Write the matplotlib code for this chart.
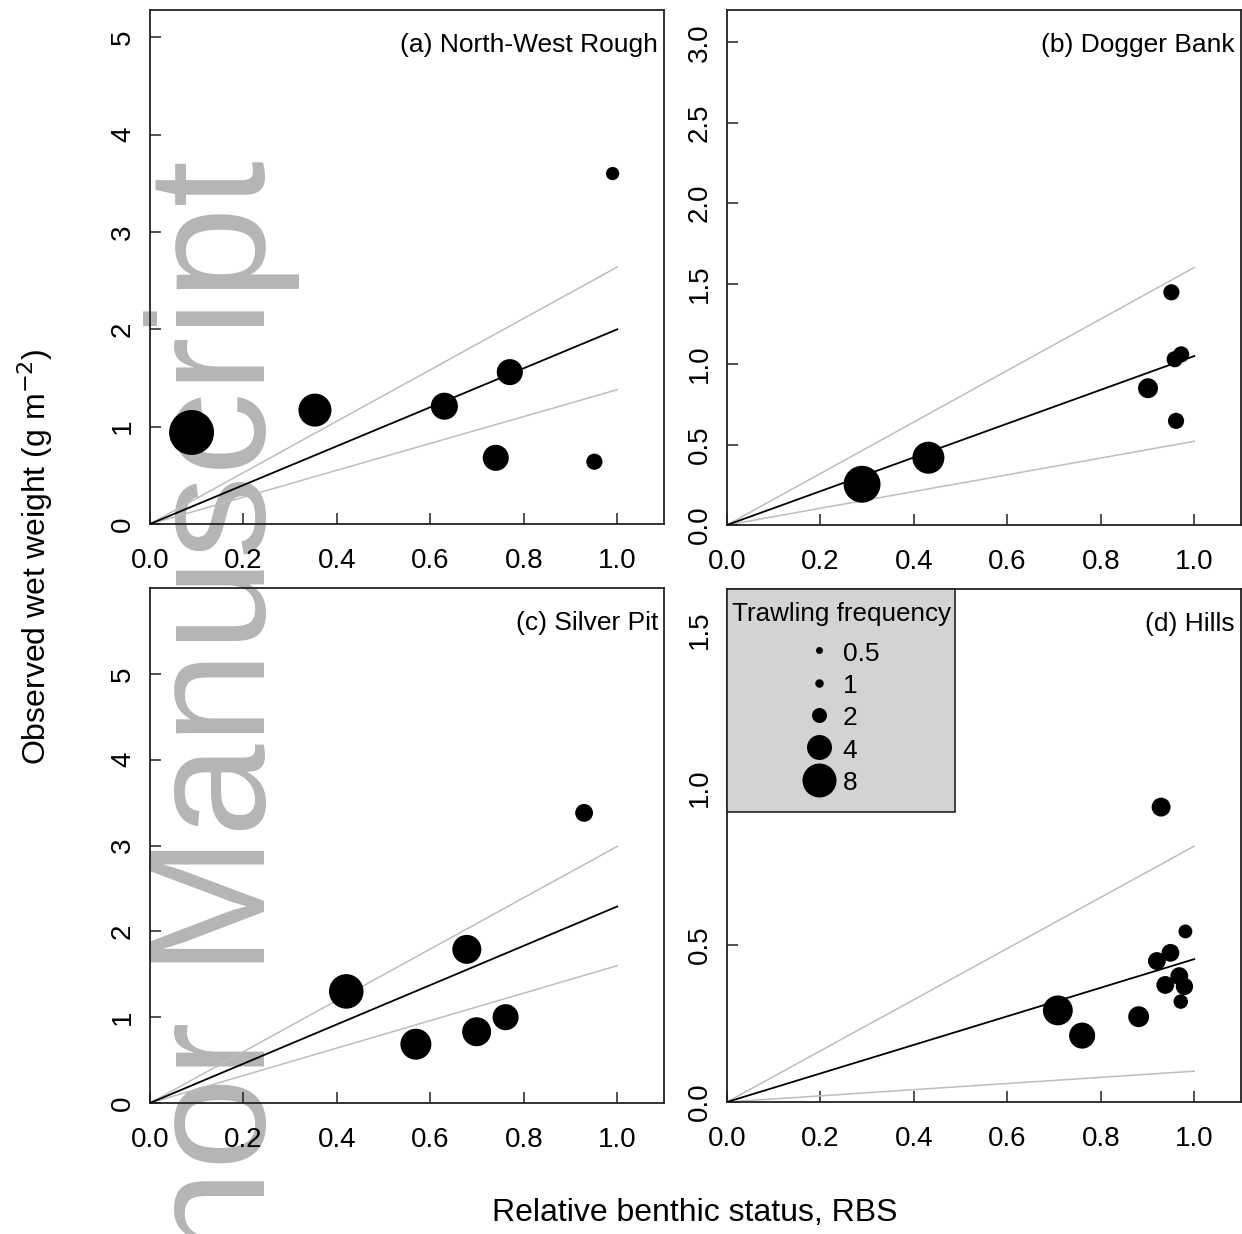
import numpy as np
import matplotlib
matplotlib.use("Agg")
import matplotlib.pyplot as plt
from matplotlib.lines import Line2D
from matplotlib.patches import Rectangle
from matplotlib.ticker import FormatStrFormatter

plt.rcParams['font.family'] = ['Liberation Sans', 'DejaVu Sans']

# ---------------- data ----------------
panel_titles = ['(a) North-West Rough', '(b) Dogger Bank', '(c) Silver Pit', '(d) Hills']

a_rbs = [0.089, 0.353, 0.63, 0.77, 0.74, 0.951, 0.99]
a_wt = [0.94, 1.17, 1.21, 1.56, 0.68, 0.64, 3.60]
a_freq = [14.7, 7.5, 4.8, 4.4, 4.4, 2.2, 1.7]
a_fit = [2.0, 1.38, 2.64]          # slope: estimate, lower, upper

b_rbs = [0.289, 0.431, 0.951, 0.958, 0.972, 0.901, 0.961]
b_wt = [0.253, 0.418, 1.446, 1.03, 1.06, 0.85, 0.647]
b_freq = [9.6, 7.0, 2.2, 2.2, 2.2, 2.9, 2.2]
b_fit = [1.05, 0.52, 1.60]

c_rbs = [0.42, 0.569, 0.678, 0.699, 0.761, 0.929]
c_wt = [1.30, 0.685, 1.79, 0.83, 1.0, 3.38]
c_freq = [8.3, 6.5, 5.6, 5.6, 4.4, 2.5]
c_fit = [2.29, 1.60, 2.99]

d_rbs = [0.929, 0.981, 0.949, 0.92, 0.968, 0.979, 0.938, 0.971, 0.708, 0.76, 0.881]
d_wt = [0.937, 0.542, 0.474, 0.448, 0.40, 0.367, 0.372, 0.319, 0.291, 0.211, 0.271]
d_freq = [2.7, 1.8, 2.5, 2.5, 2.5, 2.4, 2.5, 1.9, 6.0, 4.4, 3.1]
d_fit = [0.454, 0.098, 0.813]

legend_freq = [0.5, 1, 2, 4, 8]
legend_labels = ['0.5', '1', '2', '4', '8']

x_ticks = [0.0, 0.2, 0.4, 0.6, 0.8, 1.0]
a_yticks = [0, 1, 2, 3, 4, 5]
b_yticks = [0.0, 0.5, 1.0, 1.5, 2.0, 2.5, 3.0]
c_yticks = [0, 1, 2, 3, 4, 5]
d_yticks = [0.0, 0.5, 1.0, 1.5]

# ---------------- styling helpers ----------------
W, H = 1242, 1234
DPI = 100
PX = 72.0 / DPI  # points per pixel

_leg_diam_px = [7, 8.5, 15, 25, 34]


def diam_px(f):
    f = np.asarray(f, dtype=float)
    s = np.sqrt(f)
    ls = np.sqrt(legend_freq)
    d = np.interp(s, ls, _leg_diam_px)
    slope = (_leg_diam_px[-1] - _leg_diam_px[-2]) / (ls[-1] - ls[-2])
    d = np.where(s > ls[-1], _leg_diam_px[-1] + (s - ls[-1]) * slope, d)
    return d


def marker_area(f):
    return (diam_px(f) * PX) ** 2


fig = plt.figure(figsize=(W / DPI, H / DPI), dpi=DPI)
fig.patch.set_facecolor('white')

# watermark (underneath everything)
fig.text(265 / W, 1 - 160 / H, 'Author Manuscript', rotation=90,
         rotation_mode='anchor', ha='right', va='baseline',
         fontsize=120, color='#b5b5b5', zorder=-5)


def px_rect(l, t, r, b):
    return [l / W, 1 - b / H, (r - l) / W, (b - t) / H]


boxes = [px_rect(150, 10, 664, 524), px_rect(727, 10, 1241, 525),
         px_rect(150, 588, 664, 1103), px_rect(727, 589, 1241, 1102)]
ylims = [5.28, 3.2, 6.0, 1.63]
yticks = [a_yticks, b_yticks, c_yticks, d_yticks]
yfmt = ['%d', '%.1f', '%d', '%.1f']
datasets = [(a_rbs, a_wt, a_freq, a_fit), (b_rbs, b_wt, b_freq, b_fit),
            (c_rbs, c_wt, c_freq, c_fit), (d_rbs, d_wt, d_freq, d_fit)]

FS_TICK = 20
FS_TEXT = 19
FS_LAB = 23

axes = []
for i in range(4):
    ax = fig.add_axes(boxes[i])
    ax.set_facecolor('none')
    rbs, wt, fq, fit = datasets[i]
    xl = np.array([0.0, 1.0])
    ax.plot(xl, fit[1] * xl, color='#bdbdbd', lw=1.1, zorder=2)
    ax.plot(xl, fit[2] * xl, color='#bdbdbd', lw=1.1, zorder=2)
    ax.plot(xl, fit[0] * xl, color='black', lw=1.3, zorder=3)
    ax.scatter(rbs, wt, s=marker_area(fq), color='black', edgecolors='none',
               zorder=4)
    ax.set_xlim(0, 1.1)
    ax.set_ylim(0, ylims[i])
    ax.set_xticks(x_ticks)
    ax.xaxis.set_major_formatter(FormatStrFormatter('%.1f'))
    ax.set_yticks(yticks[i])
    ax.yaxis.set_major_formatter(FormatStrFormatter(yfmt[i]))
    ax.tick_params(axis='both', direction='in', length=8, width=1.1,
                   labelsize=FS_TICK, color='#222222')
    ax.tick_params(axis='x', pad=17)
    ax.tick_params(axis='y', pad=10, labelrotation=90)
    for lab in ax.get_yticklabels():
        lab.set_va('center')
    for sp in ax.spines.values():
        sp.set_linewidth(1.3)
        sp.set_color('#222222')
    ax.annotate(panel_titles[i], xy=(1, 1), xycoords='axes fraction',
                xytext=(-6 * PX, -35 * PX), textcoords='offset points',
                ha='right', va='center', fontsize=FS_TEXT)
    axes.append(ax)

# legend in panel (d): grey frame + legend contents
axd = axes[3]
axw_px = 514.0
axh_px = 513.0
frame_w = 228 / axw_px
frame_h = 223 / axh_px
axd.add_patch(Rectangle((0, 1 - frame_h), frame_w, frame_h,
                        transform=axd.transAxes, facecolor='#d3d3d3',
                        edgecolor='#222222', lw=1.2, zorder=9, clip_on=False))
handles = [Line2D([], [], ls='', marker='o', color='black', markeredgewidth=0,
                  markersize=float(diam_px(f)) * PX) for f in legend_freq]
leg = axd.legend(handles, legend_labels, title='Trawling frequency',
                 loc='upper center',
                 bbox_to_anchor=(frame_w / 2, 1 - 13 / axh_px),
                 borderaxespad=0, frameon=False, fontsize=FS_TEXT,
                 title_fontsize=18.7, handlelength=1.2, handleheight=1.0,
                 handletextpad=0.3, labelspacing=0.245, borderpad=0.0)
leg._legend_box.sep = 14 * PX
leg.set_zorder(10)

fig.text(35 / W, 1 - 557 / H, 'Observed wet weight (g m$^{-2}$)',
         rotation=90, ha='center', va='center', fontsize=FS_LAB)
fig.text(695 / W, 1 - 1213 / H, 'Relative benthic status, RBS',
         ha='center', va='center', fontsize=FS_LAB)

fig.savefig('out.png', dpi=DPI)
